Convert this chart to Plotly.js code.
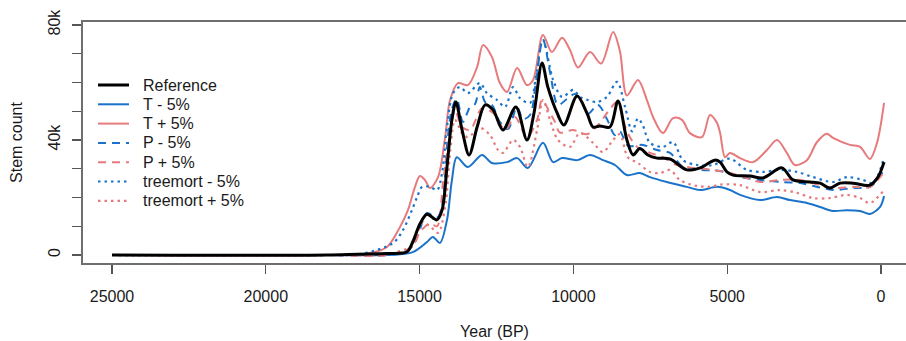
<!DOCTYPE html>
<html>
<head>
<meta charset="utf-8">
<script src="https://cdn.plot.ly/plotly-3.0.1.min.js"></script>
<style>html,body{margin:0;padding:0;background:#fff;}#chart{width:906px;height:341px;}</style>
</head>
<body>
<div id="chart"></div>
<script>
// Years BP and stem counts (thousands)
const refYears = [25000, 18000, 17000, 16060, 15410, 15220, 14990, 14760, 14440, 14270, 14110, 13950, 13820, 13620, 13390, 13130, 12870, 12610, 12290, 11870, 11510, 11280, 11020, 10830, 10530, 10310, 9880, 9560, 9360, 9140, 8810, 8550, 8260, 8060, 7840, 7580, 7280, 6860, 6310, 5880, 5400, 5230, 5010, 4810, 4260, 3840, 3220, 2860, 2310, 1980, 1660, 1330, 910, 360, 100, -100];
const refVals = [0, 0, 0.3, 0.5, 1.1, 4.6, 10.8, 14.2, 12.2, 15.6, 30.6, 47, 53.2, 43.5, 34.8, 44.5, 52.2, 50.4, 43.5, 51.5, 40, 49.4, 66.8, 58.4, 49.4, 45.2, 55.3, 49.4, 44.5, 44.9, 44.5, 53.6, 40, 34.8, 37, 34.8, 33.7, 33.4, 29.6, 30.3, 33, 32.3, 28.9, 27.8, 27.5, 26.8, 30.3, 26.1, 25.4, 25, 23.3, 25, 25, 24.3, 27.1, 32.3];

const tMinusYears = [25000, 18000, 16060, 15220, 14760, 14570, 14340, 14110, 13950, 13790, 13430, 12970, 12650, 12160, 11830, 11480, 10990, 10660, 10370, 9880, 9460, 9040, 8650, 8260, 7840, 7510, 6960, 6310, 5880, 5330, 4910, 4580, 3930, 3380, 2960, 2410, 1980, 1560, 1110, 680, 360, 30, -100];
const tMinusVals = [0, 0, 0, 1, 4.5, 6.3, 4.2, 12.2, 26, 34, 30.6, 34.8, 32, 32.3, 33.7, 30.3, 39, 32.3, 33.7, 33, 34.8, 33, 31.3, 27.8, 28.5, 27.1, 25.4, 23.7, 22.6, 23.7, 22.6, 20.9, 19.1, 20.2, 19.1, 18.1, 16.7, 15.3, 15.6, 15.3, 14.3, 16.7, 20.5];

const tPlusYears = [25000, 18000, 16610, 16060, 15640, 15380, 15150, 14990, 14820, 14660, 14400, 14170, 14010, 13750, 13430, 13130, 12940, 12650, 12390, 12160, 11830, 11510, 11310, 10990, 10700, 10370, 10110, 9850, 9460, 9100, 8710, 8490, 8260, 7900, 7610, 7410, 7090, 6760, 6470, 6210, 5820, 5560, 5330, 5230, 5070, 4910, 4580, 4160, 3710, 3380, 3060, 2800, 2410, 2080, 1760, 1560, 1010, 680, 360, 130, -100];
const tPlusVals = [0, 0, 0.7, 2.8, 9.7, 15.6, 23.7, 27.5, 26, 23.3, 27.1, 41, 53.9, 59.8, 59.1, 65.4, 73, 68.9, 59.8, 56.7, 65, 59.1, 60.9, 76.5, 70.6, 75.6, 71.3, 65.2, 70.6, 66.6, 77.6, 71, 55.5, 60.9, 53.9, 48, 42.4, 47.6, 47, 42.4, 41, 48.7, 45.9, 42.4, 34, 35.5, 33.7, 32.3, 36.5, 40, 35.5, 31.3, 33, 39.3, 42.2, 40.7, 38.3, 37.6, 33.4, 39, 52.9];

const pMinusYears = [25000, 18000, 16060, 15410, 15220, 14990, 14760, 14430, 14270, 14110, 13950, 13790, 13590, 13360, 13200, 13040, 12870, 12650, 12390, 12130, 11830, 11640, 11410, 11220, 10990, 10760, 10500, 10210, 9950, 9720, 9530, 9200, 8910, 8650, 8490, 8220, 7740, 7280, 6860, 6440, 5880, 5230, 4580, 3930, 3280, 2630, 1980, 1560, 910, 360, -100];
const pMinusVals = [0, 0, 0, 1.2, 4, 9, 14.6, 13, 17, 38, 50.8, 54.3, 46.3, 51.5, 52.5, 58.4, 53.2, 52.2, 46.3, 43.8, 51.5, 47.3, 48.7, 60, 75, 63.6, 52.2, 54.3, 56, 53.2, 49, 52.2, 47.3, 41.7, 43, 38, 38.3, 36.5, 35.5, 30.6, 29.6, 29.2, 27.1, 26.1, 25.4, 25, 23.5, 22.6, 23.3, 23.7, 29.6];

const pPlusYears = [25000, 18000, 16060, 15220, 14990, 14660, 14430, 14240, 14010, 13850, 13620, 13360, 12970, 12610, 12220, 11900, 11510, 11180, 11020, 10760, 10600, 10440, 10010, 9560, 9200, 8810, 8580, 8260, 7930, 7510, 7090, 6630, 6110, 5460, 4910, 4580, 3930, 3280, 2630, 1980, 1560, 910, 360, -100];
const pPlusVals = [0, 0, 0, 3, 8, 11, 10, 25, 42.4, 50.4, 44.5, 43.5, 51, 49.4, 43.5, 48, 41, 47, 53.9, 49.4, 46.3, 42.6, 43.5, 42, 45.2, 50.8, 53.2, 43, 37.6, 35.5, 34, 31.3, 30.3, 29.6, 28.5, 27.5, 25.4, 26.1, 26.1, 24.3, 23.3, 23.7, 23.7, 28.9];

const mMinusYears = [25000, 18000, 16940, 15860, 15540, 15250, 15080, 14920, 14660, 14430, 14270, 14110, 13910, 13690, 13430, 13040, 12810, 12480, 12220, 11960, 11740, 11410, 11220, 10990, 10660, 10370, 10010, 9790, 9530, 9230, 8910, 8580, 8320, 8090, 7900, 7740, 7510, 7090, 6760, 6440, 5980, 5460, 4910, 4360, 3840, 3280, 2730, 2210, 1560, 1110, 590, 260, -100];
const mMinusVals = [0, 0, 0.3, 4.2, 8.7, 15.6, 20.2, 23.7, 23.7, 22.6, 28.5, 44.5, 56.3, 58.4, 56.3, 59.8, 56.3, 53.9, 51.5, 58.4, 54.6, 52.9, 62, 74.8, 60.9, 55, 57.4, 55, 53.9, 53.2, 55, 60.2, 51.5, 43, 47.5, 45, 39, 37.6, 39.3, 33, 31.3, 31.3, 33.5, 29.6, 28.9, 29.6, 28.9, 27.1, 25.4, 27.1, 26.1, 25, 34];

const mPlusYears = [25000, 18000, 16060, 15220, 14920, 14660, 14400, 14170, 14010, 13850, 13620, 13430, 13040, 12710, 12450, 12290, 11960, 11740, 11480, 11180, 10990, 10760, 10500, 10110, 9790, 9360, 9040, 8710, 8490, 8230, 7900, 7510, 7180, 6860, 6540, 6110, 5560, 5230, 4580, 3930, 3280, 2730, 2210, 1660, 1110, 680, 360, -100];
const mPlusVals = [0, 0, 0.3, 3.5, 11.1, 10, 7.7, 16.7, 35.5, 47, 42.4, 41, 44.2, 41.7, 36.5, 35.5, 40, 37.6, 30.6, 43.5, 53.9, 47, 40, 37.6, 42.4, 39, 35.8, 40, 42, 34, 32, 28.9, 28.5, 29.6, 26.1, 24.3, 23.7, 24.5, 24.3, 21.9, 22.6, 21.6, 19.8, 19.8, 20.9, 19.8, 18.1, 22.6];

const seriesNames = ['Reference', 'T - 5%', 'T + 5%', 'P - 5%', 'P + 5%', 'treemort - 5%', 'treemort + 5%'];
const xTicks = [25000, 20000, 15000, 10000, 5000, 0];
const yTicks = [0, 10, 20, 30, 40, 50, 60, 70, 80];
const yTickText = ['0', '', '', '', '40k', '', '', '', '80k'];

const BLUE = '#1a73c9';
const RED = '#e67a7c';
const FONT = 'Liberation Sans, Arial, Helvetica, sans-serif';
const TXT = '#1a1a1a';

// style per series (same order as seriesNames)
const styles = [
  {color: '#000000', width: 3, dash: 'solid'},
  {color: BLUE, width: 2, dash: 'solid'},
  {color: RED, width: 2, dash: 'solid'},
  {color: BLUE, width: 2, dash: '8px,6px'},
  {color: RED, width: 2, dash: '8px,6px'},
  {color: BLUE, width: 2.2, dash: '2.5px,4px'},
  {color: RED, width: 2.2, dash: '2.5px,4px'}
];
const xs = [refYears, tMinusYears, tPlusYears, pMinusYears, pPlusYears, mMinusYears, mPlusYears];
const ys = [refVals, tMinusVals, tPlusVals, pMinusVals, pPlusVals, mMinusVals, mPlusVals];

const data = [];
// draw the reference last so it sits on top
[1, 2, 3, 4, 5, 6, 0].forEach(function (i) {
  data.push({
    type: 'scatter', mode: 'lines', name: seriesNames[i], x: xs[i], y: ys[i],
    line: {color: styles[i].color, width: styles[i].width, dash: styles[i].dash, shape: 'spline', smoothing: 0.9},
    showlegend: false, hoverinfo: 'skip'
  });
});

// Legend box (R-style), built from the same names and styles
const W = 906, H = 341, ML = 83, MR = 0, MT = 22, MB = 78;
const pw = W - ML - MR, ph = H - MT - MB;
function px2x(p) { return (p - ML) / pw; }
function py2y(p) { return (H - MB - p) / ph; }
const legTop = 85, legStep = 19.3;
const shapes = [], annotations = [];
seriesNames.forEach(function (n, i) {
  const yy = py2y(legTop + i * legStep);
  shapes.push({type: 'line', xref: 'paper', yref: 'paper', x0: px2x(98), x1: px2x(129), y0: yy, y1: yy,
    line: {color: styles[i].color, width: styles[i].width, dash: styles[i].dash}});
  annotations.push({xref: 'paper', yref: 'paper', x: px2x(141), y: yy, xanchor: 'left', yanchor: 'middle',
    text: n, showarrow: false, font: {family: FONT, size: 16, color: TXT}});
});

const layout = {
  width: W, height: H,
  margin: {l: ML, r: MR, t: MT, b: MB, pad: 0},
  paper_bgcolor: '#ffffff', plot_bgcolor: '#ffffff',
  font: {family: FONT, size: 16, color: TXT},
  showlegend: false,
  shapes: shapes, annotations: annotations,
  xaxis: {
    range: [25943, -813], autorange: false,
    tickmode: 'array', tickvals: xTicks, ticktext: xTicks.map(String),
    ticks: 'outside', ticklen: 9, tickwidth: 1.3, tickcolor: '#555',
    ticklabelstandoff: 9,
    showline: true, linecolor: '#6e6e6e', linewidth: 1.6, mirror: true,
    showgrid: false, zeroline: false,
    tickfont: {family: FONT, size: 16, color: TXT},
    title: {text: 'Year (BP)', font: {family: FONT, size: 16, color: TXT}, standoff: 22}
  },
  yaxis: {
    range: [-2.78, 81.04], autorange: false,
    tickmode: 'array', tickvals: yTicks, ticktext: yTickText, tickangle: -90,
    ticks: 'outside', ticklen: 9, tickwidth: 1.3, tickcolor: '#555',
    ticklabelstandoff: 6,
    showline: true, linecolor: '#6e6e6e', linewidth: 1.6, mirror: false,
    showgrid: false, zeroline: false,
    tickfont: {family: FONT, size: 16, color: TXT},
    title: {text: 'Stem count', font: {family: FONT, size: 16, color: TXT}, standoff: 19}
  }
};

Plotly.newPlot('chart', data, layout, {staticPlot: true, displayModeBar: false});
</script>
</body>
</html>
